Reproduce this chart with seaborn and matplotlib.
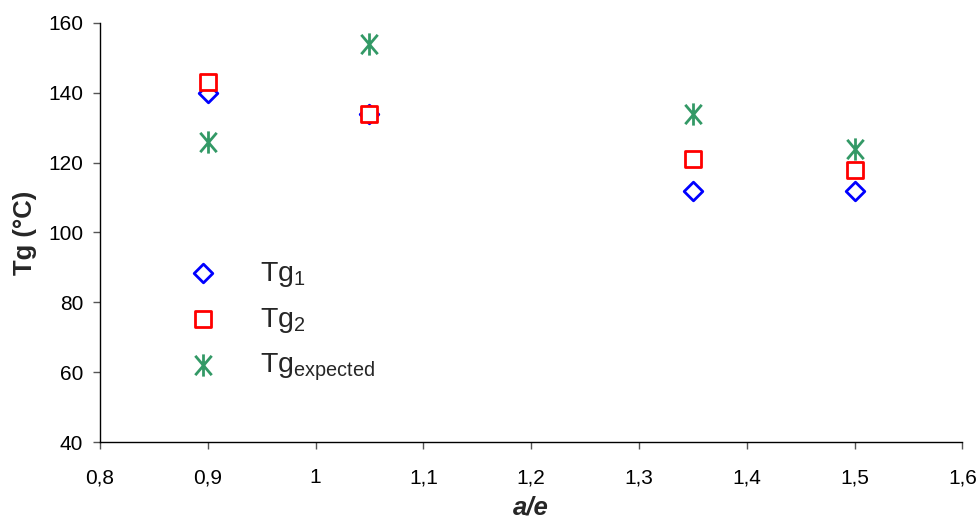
import matplotlib
matplotlib.use("Agg")
import matplotlib.pyplot as plt
import seaborn as sns
from matplotlib.path import Path
from matplotlib.ticker import FuncFormatter

# values
ae = [0.9, 1.05, 1.35, 1.5]
tg1 = [140, 134, 112, 112]
tg2 = [143, 134, 121, 118]
tg_expected = [126, 154, 134, 124]

sns.set_style("white")
plt.rcParams['font.family'] = ['Liberation Sans', 'DejaVu Sans']
plt.rcParams['mathtext.fontset'] = 'custom'
plt.rcParams['mathtext.rm'] = 'Liberation Sans'

# Excel-like star: an X with a vertical stroke
star = Path([(-0.85, -1), (0.85, 1), (-0.85, 1), (0.85, -1), (0, -1.15), (0, 1.15)],
            [Path.MOVETO, Path.LINETO, Path.MOVETO, Path.LINETO, Path.MOVETO, Path.LINETO])

fig, ax = plt.subplots(figsize=(9.8, 5.2), dpi=100)
fig.subplots_adjust(left=0.102, right=0.982, bottom=0.15, top=0.956)

sns.scatterplot(x=ae, y=tg1, ax=ax, marker='D', s=9.5**2, facecolor='white',
                edgecolor='#0000FF', linewidth=2, label=r'$\mathregular{Tg_1}$')
sns.scatterplot(x=ae, y=tg2, ax=ax, marker='s', s=11.5**2, facecolor='white',
                edgecolor='#FF0000', linewidth=2, label=r'$\mathregular{Tg_2}$')
sns.scatterplot(x=ae, y=tg_expected, ax=ax, marker=star, s=16**2,
                color='#339966', edgecolor='#339966', linewidth=2,
                label=r'$\mathregular{Tg_{expected}}$')

ax.set_xlim(0.8, 1.6)
ax.set_ylim(40, 160)
ax.set_xticks([0.8, 0.9, 1.0, 1.1, 1.2, 1.3, 1.4, 1.5, 1.6])
ax.set_yticks(range(40, 161, 20))
ax.xaxis.set_major_formatter(FuncFormatter(lambda v, p: f"{v:g}".replace('.', ',')))

for side in ['top', 'right']:
    ax.spines[side].set_visible(False)
for side in ['left', 'bottom']:
    ax.spines[side].set_color('black')
    ax.spines[side].set_linewidth(1)
ax.tick_params(axis='both', direction='out', length=5, width=1, color='#555555',
               labelsize=15, colors='black', bottom=True, left=True)
ax.tick_params(axis='x', pad=14)
ax.tick_params(axis='y', pad=7)

ax.set_ylabel('Tg (°C)', fontsize=18.5, fontweight='bold', labelpad=8)
ax.set_xlabel('a/e', fontsize=18.5, fontweight='bold', style='italic', labelpad=6)

ax.legend(loc='center left', bbox_to_anchor=(0.073, 0.288), frameon=False,
          fontsize=20.5, handlelength=1, handletextpad=1.5, labelspacing=0.6,
          scatterpoints=1)

plt.savefig('out.png', dpi=100)
